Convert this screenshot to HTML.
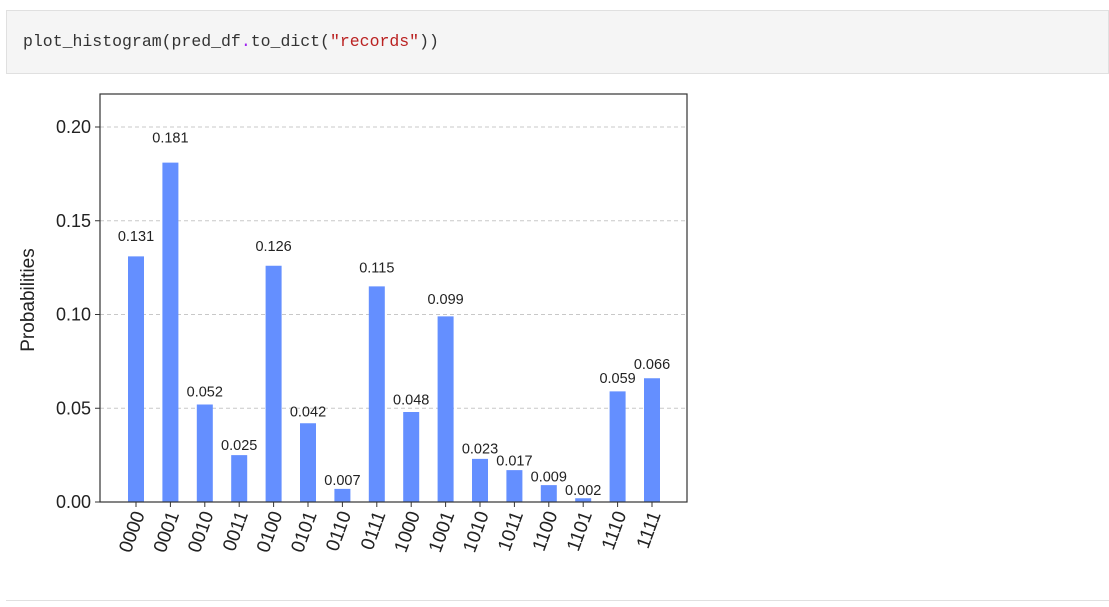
<!DOCTYPE html>
<html><head><meta charset="utf-8"><style>
body{margin:0;background:#fff;width:1109px;height:607px;overflow:hidden;font-family:"Liberation Sans",sans-serif}
#cell{position:absolute;left:6px;top:10px;width:1103px;height:64px;background:#f5f5f5;border:1px solid #e0e0e0;box-sizing:border-box}
#code{position:absolute;left:16px;top:21px;font-family:"Liberation Mono",monospace;font-size:16.5px;color:#333}
#sep{position:absolute;left:6px;top:600px;width:1103px;height:1px;background:#e0e0e0}
</style></head><body>
<div id="cell"><div id="code">plot_histogram(pred_df<span style="color:#a020f0">.</span>to_dict(<span style="color:#ba2121">"records"</span>))</div></div>
<div id="sep"></div>
<svg id="chart" width="1109" height="607" style="position:absolute;left:0;top:0"></svg>
<script>
const categories=["0000","0001","0010","0011","0100","0101","0110","0111","1000","1001","1010","1011","1100","1101","1110","1111"];
const values=[0.131,0.181,0.052,0.025,0.126,0.042,0.007,0.115,0.048,0.099,0.023,0.017,0.009,0.002,0.059,0.066];
const yTicks=[0,0.05,0.10,0.15,0.20];
const yTickLabels=["0.00","0.05","0.10","0.15","0.20"];
const svg=document.getElementById('chart');
const NS='http://www.w3.org/2000/svg';
const L=100,R=687,T=94,B=502,yMax=0.2176;
const y=v=>B-(v/yMax)*(B-T);
const x0=136,step=(652-136)/(categories.length-1);
const x=i=>x0+i*step;
function mk(t,a){const e=document.createElementNS(NS,t);for(const k in a)e.setAttribute(k,a[k]);svg.appendChild(e);return e;}
yTicks.forEach((v,i)=>{
 if(v>0){const g=mk('line',{x1:L,x2:R,y1:y(v),y2:y(v),stroke:'#c8c8c8','stroke-dasharray':'4,3','stroke-width':1});
 
 }
 const tk=mk('line',{x1:L-5,x2:L,y1:y(v),y2:y(v),stroke:'#333'});
 
 
 const t=mk('text',{x:L-9,y:y(v)+6,'text-anchor':'end','font-size':18,fill:'#222'});
 t.textContent=yTickLabels[i];
 
 
});
values.forEach((v,i)=>{
 const b=mk('rect',{x:x(i)-8,y:y(v),width:16,height:B-y(v),fill:'#648fff'});
 
 
 const t=mk('text',{x:x(i),y:y(v*1.05)-3,'text-anchor':'middle','font-size':14.5,fill:'#222'});
 t.textContent=v.toFixed(3);
 
 
 const tk=mk('line',{x1:x(i),x2:x(i),y1:B,y2:B+5,stroke:'#333'});
 
 
 const c=mk('text',{transform:`translate(${x(i)+9},${B+12}) rotate(-70)`,'text-anchor':'end','font-size':19,fill:'#222'});
 c.textContent=categories[i];
 
 
});
const fr=mk('rect',{x:L,y:T,width:R-L,height:B-T,fill:'none',stroke:'#333','stroke-width':1.2});


const yl=mk('text',{transform:'translate(34,300) rotate(-90)','text-anchor':'middle','font-size':19,fill:'#222'});
yl.textContent='Probabilities';


</script>
</body></html>
